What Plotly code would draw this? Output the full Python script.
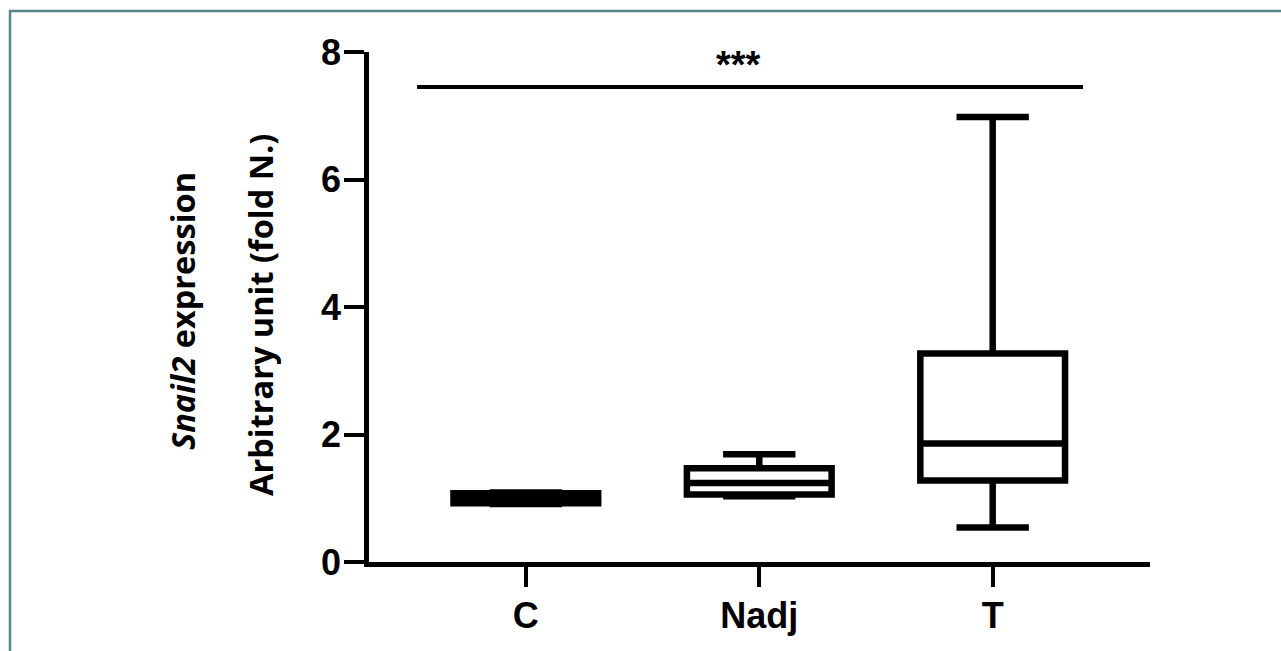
import plotly.graph_objects as go

# ---- data ----
categories = ["C", "Nadj", "T"]
q1 = [0.92, 1.06, 1.28]
median = [1.00, 1.24, 1.86]
q3 = [1.08, 1.47, 3.27]
lowerfence = [0.91, 1.03, 0.54]
upperfence = [1.09, 1.69, 6.98]

y_ticks = [0, 2, 4, 6, 8]
sig_label = "***"
sig_y = 7.45
sig_x = [-0.466, 2.387]
sig_label_y = 7.8
title_line1 = "<b><i>Snail2</i> expression</b>"
title_line2 = "<b>Arbitrary unit (fold N.)</b>"

W, H = 1281, 651
L, R, T, B = 369, 131, 52, 89
pw, ph = W - L - R, H - T - B

def px_x(px):
    return (px - L) / pw

def px_y(py):
    return (H - B - py) / ph

fig = go.Figure()
fig.add_trace(go.Box(
    x=categories, q1=q1, median=median, q3=q3,
    lowerfence=lowerfence, upperfence=upperfence,
    fillcolor="white", line=dict(color="black", width=6.5),
    whiskerwidth=0.5, width=0.62, boxpoints=False,
    hoverinfo="skip", showlegend=False,
))

tick_font = dict(family="Liberation Sans, Arial, sans-serif", size=36, color="black", weight="bold")

fig.update_layout(
    width=W, height=H,
    margin=dict(l=L, r=R, t=T, b=B),
    paper_bgcolor="white", plot_bgcolor="white",
    xaxis=dict(
        type="category", categoryorder="array", categoryarray=categories,
        range=[-0.672, 2.674],
        showline=True, linecolor="black", linewidth=4.5,
        ticks="outside", ticklen=20, tickwidth=4, tickcolor="black",
        showgrid=False, zeroline=False,
        tickfont=tick_font,
        ticklabelstandoff=-2,
    ),
    yaxis=dict(
        range=[0, 8], tickvals=y_ticks,
        showline=True, linecolor="black", linewidth=4.5,
        ticks="outside", ticklen=20, tickwidth=4, tickcolor="black",
        showgrid=False, zeroline=False,
        tickfont=tick_font,
        ticklabelstandoff=-4,
    ),
)

title_font = dict(family="Open Sans, sans-serif", size=32.5, color="black")
fig.add_annotation(xref="paper", yref="paper", x=px_x(182), y=px_y(311),
                   text=title_line1, textangle=-90, showarrow=False,
                   xanchor="center", yanchor="middle", font=title_font)
fig.add_annotation(xref="paper", yref="paper", x=px_x(260), y=px_y(315),
                   text=title_line2, textangle=-90, showarrow=False,
                   xanchor="center", yanchor="middle", font=title_font)

fig.add_shape(type="line", xref="x", yref="y",
              x0=sig_x[0], x1=sig_x[1], y0=sig_y, y1=sig_y,
              line=dict(color="black", width=4))
fig.add_annotation(xref="x", yref="y", x=(sig_x[0] + sig_x[1]) / 2 - 0.05, y=sig_label_y,
                   text="<b>" + sig_label + "</b>", showarrow=False,
                   font=dict(family="Liberation Sans, Arial, sans-serif", size=38, color="black"))

# outer frame (left and top edges)
fig.add_shape(type="path", xref="paper", yref="paper",
              path=f"M {px_x(10)} {px_y(700)} L {px_x(10)} {px_y(11)} L {px_x(1300)} {px_y(11)}",
              line=dict(color="#5b8585", width=2.5))

fig.write_html("out.html", config={"displayModeBar": False},
               post_script="document.body.style.margin='0';")
